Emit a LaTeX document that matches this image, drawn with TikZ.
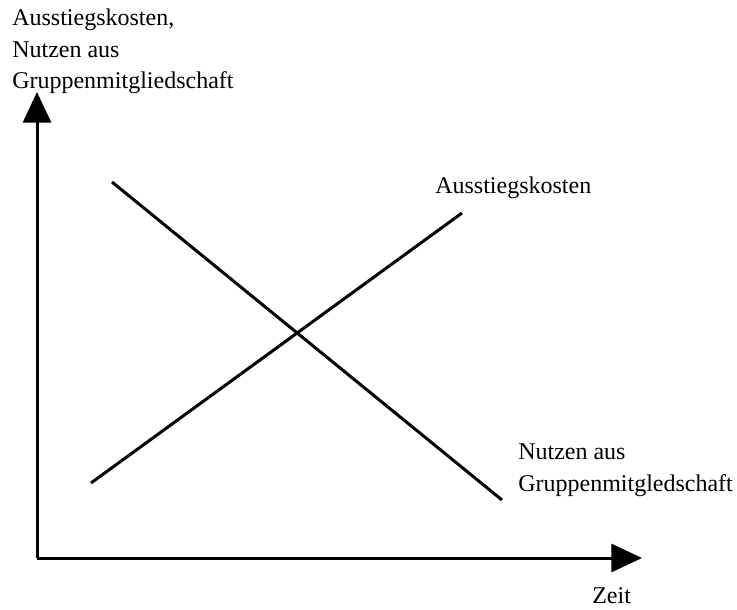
\documentclass[tikz,border=0pt]{standalone}
\usepackage{fontspec}
\setmainfont{Liberation Serif}
\usepackage{xcolor}
\usetikzlibrary{arrows.meta}

\tikzset{
  achse/.style={line width=2.25pt, -{Triangle[length=23pt, width=21pt]}},
  kurve/.style={line width=2.25pt},
  beschriftung/.style={inner sep=0pt, align=left, font=\fontsize{18}{23.5}\selectfont}
}

\begin{document}
\begin{tikzpicture}[x=0.75pt,y=0.75pt,yscale=-1,xscale=1]
%set diagram size
\useasboundingbox (0,0) rectangle (737,609);

% Coordinates
\coordinate (o) at (37,558);
\coordinate (ytip) at (37,92);
\coordinate (xtip) at (642,558);
\coordinate (n1) at (112,182);
\coordinate (n2) at (502,500);
\coordinate (k1) at (91,483);
\coordinate (k2) at (462,213);

%Axes
\draw [achse] (o) -- (ytip) ;
\draw [achse] (o) -- (xtip) ;
%Straight Lines - Nutzen
\draw [kurve] (n1) -- (n2) ;
%Straight Lines - Ausstiegskosten
\draw [kurve] (k1) -- (k2) ;

% Text Node
\node (ylabel) [beschriftung, anchor=north west] at (12,9)
{Ausstiegskosten,\\Nutzen aus\\Gruppenmitgliedschaft};
% Text Node
\node (zeit) [beschriftung, anchor=base west] at (592,603) {Zeit};
% Text Node
\node (kosten) [beschriftung, anchor=base west] at (435,194) {Ausstiegskosten};
% Text Node
\node (nutzen) [beschriftung, anchor=north west] at (518,444)
{Nutzen aus\\Gruppenmitgledschaft};

\end{tikzpicture}
\end{document}
